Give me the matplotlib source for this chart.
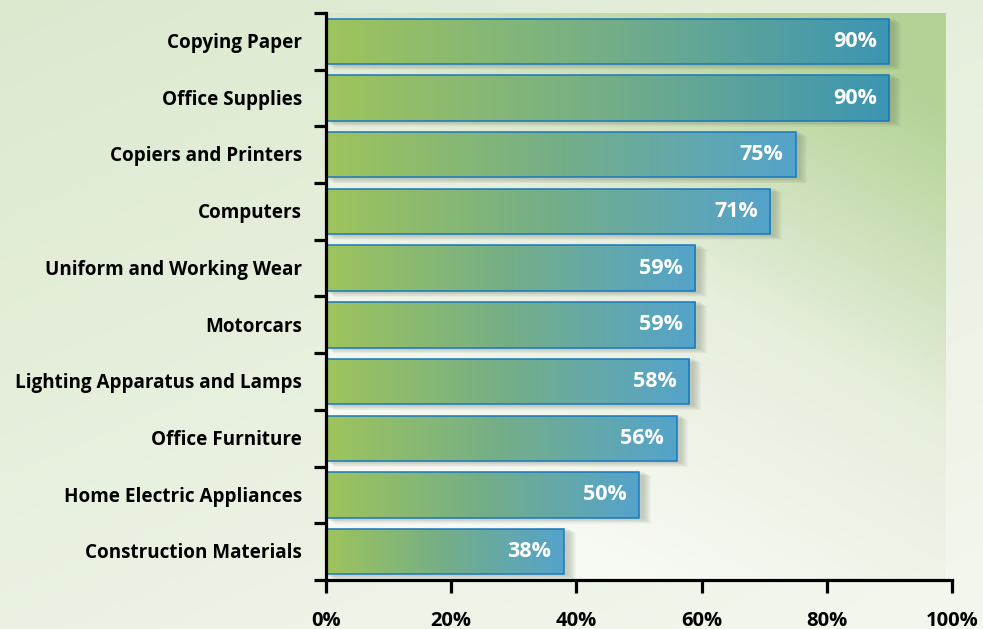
import numpy as np
import matplotlib
matplotlib.use("Agg")
import matplotlib.pyplot as plt
from matplotlib.colors import LinearSegmentedColormap
from matplotlib.transforms import offset_copy

categories = ["Copying Paper", "Office Supplies", "Copiers and Printers", "Computers",
              "Uniform and Working Wear", "Motorcars", "Lighting Apparatus and Lamps",
              "Office Furniture", "Home Electric Appliances", "Construction Materials"]
values = [90, 90, 75, 71, 59, 59, 58, 56, 50, 38]
xticks = [0, 20, 40, 60, 80, 100]
xticklabels = ["0%", "20%", "40%", "60%", "80%", "100%"]

plt.rcParams['font.family'] = ['Open Sans', 'DejaVu Sans']

fig = plt.figure(figsize=(9.83, 6.29), dpi=100)
# figure background gradient
bg = fig.add_axes([0, 0, 1, 1], zorder=-10)
gx = np.linspace(0, 1, 200)
gy = np.linspace(0, 1, 200)
X, Y = np.meshgrid(gx, gy)
bgcmap = LinearSegmentedColormap.from_list("bg", ["#f4f7ef", "#dce9cf"])
bg.imshow(0.6 * Y + 0.4 * (1 - X), cmap=bgcmap, extent=[0, 1, 0, 1], origin="lower", aspect="auto")
bg.axis("off")

ax = fig.add_axes([326 / 983, 1 - 580 / 629, (952 - 326) / 983, (580 - 13) / 629])
n = len(categories)
y = np.arange(n)
ax.set_xlim(0, 100)
ax.set_ylim(n - 0.5, -0.5)
ax.patch.set_alpha(0)

# axes background gradient (green top-right to whitish bottom)
panel_cmap = LinearSegmentedColormap.from_list("panel", ["#f7f9f3", "#e6eedc", "#b4d296"])
PX, PY = np.meshgrid(np.linspace(0, 1, 200), np.linspace(0, 1, 200))
pv = np.clip(PX * 0.55 + (1 - PY) * 0.9 - 0.3, 0, 1)
ax.imshow(pv, cmap=panel_cmap, extent=[0, 99, n - 0.5, -0.5], aspect="auto", zorder=0)

bars = ax.barh(y, values, height=0.8, facecolor="none", edgecolor="#1a78bd", linewidth=1.1, zorder=3)

for b, v in zip(bars, values):
    x0, y0 = b.get_x(), b.get_y()
    w, h = b.get_width(), b.get_height()
    frac = v / 100.0
    # soft shadow
    for k in range(1, 9):
        tr = offset_copy(ax.transData, fig=fig, x=k * 1.0, y=-k * 0.6, units="dots")
        ax.add_patch(plt.Rectangle((x0, y0 - 0.02), w + 0.6, h + 0.04, transform=tr,
                                   facecolor="#5f6f58", edgecolor="none", alpha=0.045, zorder=1))
    cmap = LinearSegmentedColormap.from_list(
        "bar", ["#9ec45c", "#74ae88", "#3c95b3" if frac > 0.8 else "#54a3cb"])
    grad = np.linspace(0, 1, 256).reshape(1, -1)
    im = ax.imshow(grad, cmap=cmap, extent=[x0, x0 + w, y0 + h, y0], aspect="auto", zorder=2)
    clip = plt.Rectangle((x0, y0), w, h, transform=ax.transData, facecolor="none", edgecolor="none")
    ax.add_patch(clip)
    im.set_clip_path(clip)
    ax.text(x0 + w - 2.0, y0 + h / 2, f"{v}%", ha="right", va="center", color="white",
            fontsize=15.5, fontweight="bold", zorder=4)

ax.set_xlim(0, 100)
ax.set_ylim(n - 0.5, -0.5)

# y ticks at category boundaries
ax.set_yticks(np.arange(-0.5, n, 1.0))
ax.set_yticklabels([])
ax.tick_params(axis="y", length=9, width=2.3, color="black", direction="out")
for yi, c in zip(y, categories):
    ax.text(-3.8, yi + 0.03, c, ha="right", va="center", fontsize=13.6, fontweight="bold", color="black",
            transform=ax.transData, clip_on=False)

ax.set_xticks(xticks)
ax.set_xticklabels(xticklabels, fontsize=14.5, fontweight="bold")
ax.tick_params(axis="x", length=9, width=2.3, color="black", direction="out", pad=13)
for s in ["top", "right"]:
    ax.spines[s].set_visible(False)
for s in ["left", "bottom"]:
    ax.spines[s].set_linewidth(2.3)
    ax.spines[s].set_zorder(5)

fig.savefig("out.png", dpi=100)
